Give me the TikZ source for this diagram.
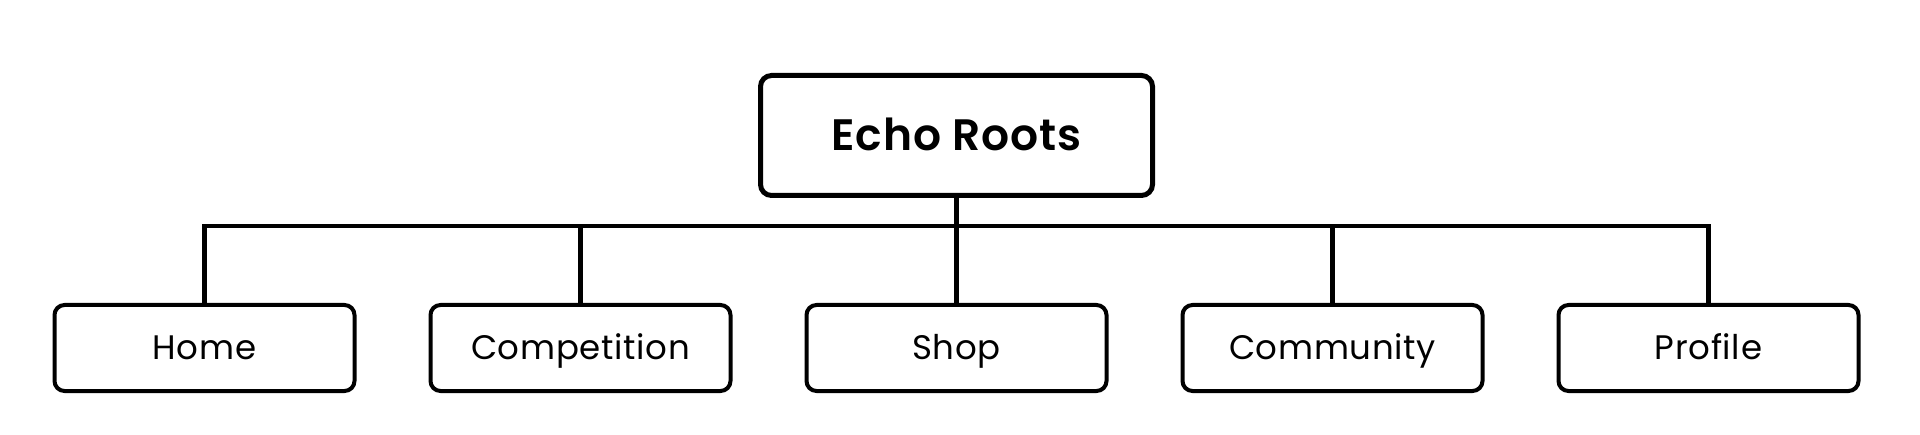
\documentclass[tikz,border=0pt]{standalone}
\usepackage{fontspec}
\setmainfont{Poppins}[BoldFont={Poppins SemiBold}, LetterSpace=2]
\usetikzlibrary{positioning}

\begin{document}
\begin{tikzpicture}[
        x=1pt, y=1pt,
        node distance=105pt and 72pt,
        box/.style={draw, rounded corners=11pt, align=center, inner sep=0pt, text depth=0pt},
        root/.style={box, line width=5pt, minimum width=392pt, minimum height=120pt, text height=30pt, font=\fontsize{44}{52}\selectfont\bfseries},
        leaf/.style={box, line width=4pt, rounded corners=10pt, minimum width=300pt, minimum height=86pt, text height=23.5pt, font=\fontsize{34}{41}\selectfont},
        link/.style={line width=4.5pt},
      ]

      \useasboundingbox (0,0) rectangle (1920,434);

      \node[root] (echo) at (956.5,298.5) {Echo Roots};

      \node[leaf, below=of echo] (shop) {Shop};
      \node[leaf, left=of shop] (competition) {Competition};
      \node[leaf, left=of competition] (home) {Home};
      \node[leaf, right=of shop] (community) {Community};
      \node[leaf, right=of community] (profile) {Profile};

      \coordinate (bar) at (0,208);

      \draw[link] (home.north) |- (profile.north |- bar) -- (profile.north);
      \draw[link] (echo.south) -- (echo.south |- bar);
      \foreach \n in {competition,shop,community}
        \draw[link] (\n.north) -- (\n.north |- bar);

    \end{tikzpicture}
\end{document}
